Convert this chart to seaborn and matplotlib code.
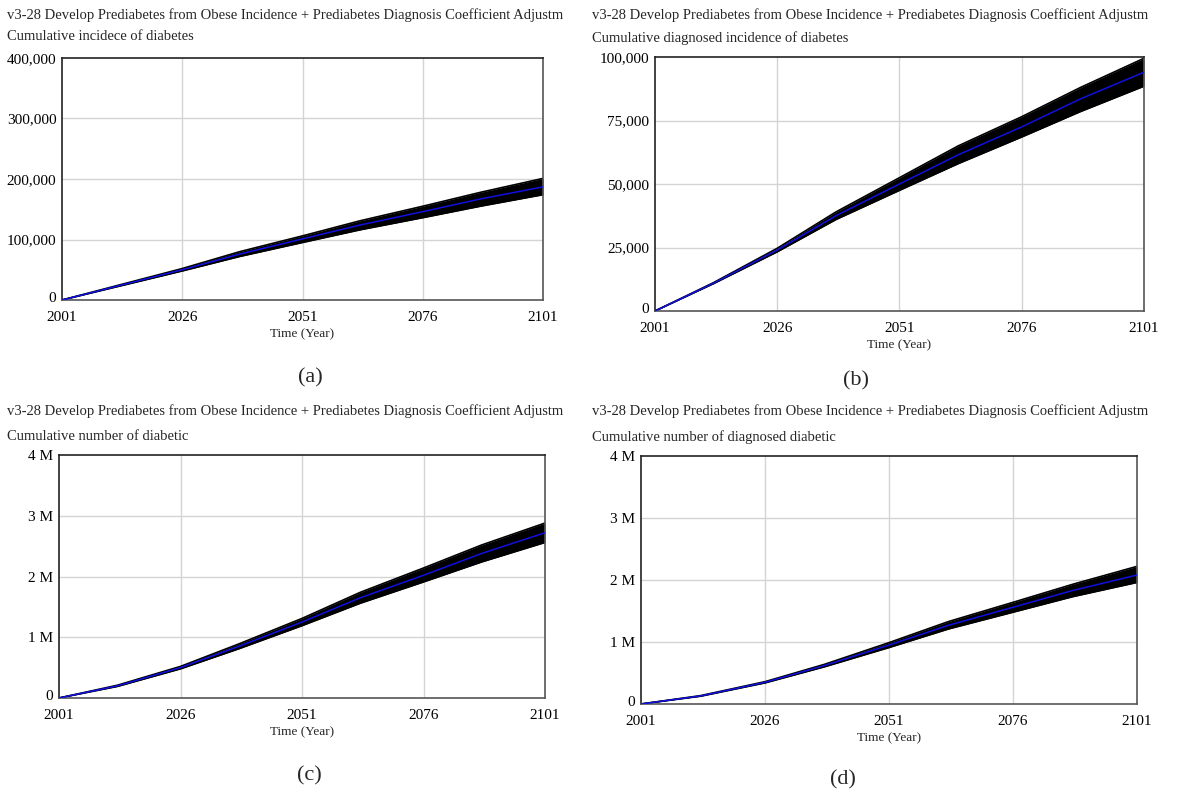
import pandas as pd
import matplotlib
matplotlib.use("Agg")
import matplotlib.pyplot as plt
import seaborn as sns
from matplotlib.ticker import FuncFormatter
from matplotlib.transforms import ScaledTranslation

# ---- data ----
years = [2001, 2013, 2026, 2038, 2051, 2063, 2076, 2088, 2101]

a_mean = [0, 24000, 50000, 76000, 101000, 124000, 146000, 167000, 187000]
a_low = [0, 23000, 48000, 72000, 95000, 116000, 136000, 155000, 174000]
a_high = [0, 25000, 52000, 80000, 106000, 131000, 155000, 178000, 201000]

b_mean = [0, 11000, 24000, 37500, 50000, 61500, 72500, 83500, 94000]
b_low = [0, 10800, 23300, 36000, 47500, 58000, 68500, 78500, 88500]
b_high = [0, 11200, 24700, 39000, 52500, 65000, 76500, 88000, 99500]

c_mean = [0, 0.20e6, 0.50e6, 0.85e6, 1.25e6, 1.65e6, 2.02e6, 2.38e6, 2.72e6]
c_low = [0, 0.19e6, 0.48e6, 0.81e6, 1.19e6, 1.56e6, 1.91e6, 2.24e6, 2.56e6]
c_high = [0, 0.21e6, 0.52e6, 0.89e6, 1.31e6, 1.74e6, 2.14e6, 2.52e6, 2.88e6]

d_mean = [0, 0.13e6, 0.35e6, 0.62e6, 0.95e6, 1.27e6, 1.56e6, 1.83e6, 2.08e6]
d_low = [0, 0.125e6, 0.34e6, 0.60e6, 0.91e6, 1.21e6, 1.48e6, 1.73e6, 1.96e6]
d_high = [0, 0.135e6, 0.36e6, 0.64e6, 0.99e6, 1.33e6, 1.64e6, 1.93e6, 2.22e6]

# the run name is cut off in the source screenshot
run_title = "v3-28 Develop Prediabetes from Obese Incidence + Prediabetes Diagnosis Coefficient Adjustm"
subtitles = ["Cumulative incidece of diabetes", "Cumulative diagnosed incidence of diabetes",
             "Cumulative number of diabetic", "Cumulative number of diagnosed diabetic"]
panel_tags = ["(a)", "(b)", "(c)", "(d)"]
x_ticks = [2001, 2026, 2051, 2076, 2101]
y_tops = [400000, 100000, 4e6, 4e6]
y_steps = [100000, 25000, 1e6, 1e6]

sns.set_theme(style="white")
plt.rcParams['font.family'] = ['Liberation Serif', 'DejaVu Serif']

W, H = 1179, 795
fig = plt.figure(figsize=(W / 100, H / 100), dpi=100)


def px_rect(l, t, r, b):
    return [l / W, 1 - b / H, (r - l) / W, (b - t) / H]


# axes boxes in pixels (left, top, right, bottom)
boxes = [(62, 58, 543, 300), (655, 57, 1144, 311), (59, 455, 545, 698), (641, 456, 1137, 704)]
# title anchors: x, title y, subtitle y
title_pos = [(7, 15, 37), (592, 15, 38), (7, 411, 436), (592, 411, 437)]
tag_pos = [(310, 378), (856, 381), (309, 776), (843, 780)]

series = [(a_mean, a_low, a_high), (b_mean, b_low, b_high),
          (c_mean, c_low, c_high), (d_mean, d_low, d_high)]


def comma_fmt(v, pos):
    return f"{int(v):,}"


def mill_fmt(v, pos):
    return "0" if v == 0 else f"{int(round(v / 1e6))} M"


for i in range(4):
    mean, low, high = series[i]
    df = pd.DataFrame({"year": years, "mean": mean, "low": low, "high": high})
    ax = fig.add_axes(px_rect(*boxes[i]))

    # grid
    for xt in x_ticks[1:-1]:
        ax.axvline(xt, color="#d4d4d4", lw=1, zorder=0)
    top = y_tops[i]
    step = y_steps[i]
    yt = [k * step for k in range(5)]
    for y in yt[1:-1]:
        ax.axhline(y, color="#d4d4d4", lw=1, zorder=0)

    # simulation envelope + mean run
    ax.fill_between(df["year"], df["low"], df["high"], color="black", lw=0, zorder=2)
    sns.lineplot(data=df, x="year", y="low", color="black", lw=1.2, ax=ax, zorder=2)
    sns.lineplot(data=df, x="year", y="high", color="black", lw=1.2, ax=ax, zorder=2)
    sns.lineplot(data=df, x="year", y="mean", color="#1010e0", lw=1.1, ax=ax, zorder=3)

    ax.set_xlim(2001, 2101)
    ax.set_ylim(0, top)
    ax.set_xticks(x_ticks)
    ax.set_yticks(yt)
    ax.yaxis.set_major_formatter(FuncFormatter(comma_fmt if i < 2 else mill_fmt))
    ax.tick_params(axis="y", length=0, labelsize=11, colors="black", pad=4)
    ax.tick_params(axis="x", length=0, labelsize=11, colors="black", pad=8)
    # the zero label sits just above the axis line
    zero = ax.get_yticklabels()[0]
    zero.set_transform(zero.get_transform() + ScaledTranslation(0, 3 / 100, fig.dpi_scale_trans))
    ax.set_xlabel("Time (Year)", fontsize=9.5, labelpad=3)
    ax.set_ylabel("")
    for s in ax.spines.values():
        s.set_color("#555555")
        s.set_linewidth(1.2)
        s.set_visible(True)
    ax.spines["top"].set_color("#222222")
    ax.spines["left"].set_color("#222222")

    # headers
    tx, ty1, ty2 = title_pos[i]
    fig.text(tx / W, 1 - ty1 / H, run_title, fontsize=10.5, va="center", ha="left")
    fig.text(tx / W, 1 - ty2 / H, subtitles[i], fontsize=10.5, va="center", ha="left")

    gx, gy = tag_pos[i]
    fig.text(gx / W, 1 - gy / H, panel_tags[i], fontsize=16, va="center", ha="center")

plt.savefig("out.png", dpi=100)
plt.close()
